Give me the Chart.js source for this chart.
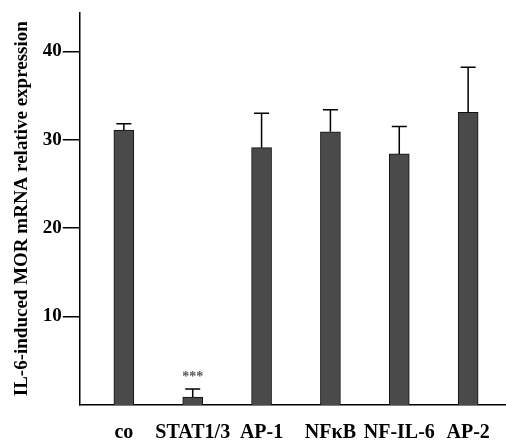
<!DOCTYPE html>
<html>
<head>
<meta charset="utf-8">
<script src="https://cdn.jsdelivr.net/npm/chart.js@4"></script>
<style>
  body { margin: 0; background: #fff; }
  #wrap { width: 506px; height: 443px; }
</style>
</head>
<body>
<div id="wrap"><canvas id="myChart"></canvas></div>
<script>
  const categories = ['co', 'STAT1/3', 'AP-1', 'NF\u03BAB', 'NF-IL-6', 'AP-2'];
  const values = [31.1, 0.9, 29.1, 30.9, 28.4, 33.1];
  const errors = [0.7, 0.9, 3.9, 2.5, 3.1, 5.1];
  const yTicks = [10, 20, 30, 40];
  const marks = ['', '***', '', '', '', ''];

  const serif = "'Liberation Serif', 'DejaVu Serif', serif";

  // upward error bars + significance stars
  const errorBars = {
    id: 'errorBars',
    afterDatasetsDraw(chart) {
      const c = chart.ctx;
      const x = chart.scales.x, y = chart.scales.y;
      c.save();
      c.strokeStyle = '#000';
      c.lineWidth = 1.5;
      values.forEach((v, i) => {
        const px = x.getPixelForValue(i);
        const top = y.getPixelForValue(v + errors[i]);
        const base = y.getPixelForValue(v);
        c.beginPath();
        c.moveTo(px, base);
        c.lineTo(px, top);
        c.moveTo(px - 7.5, top);
        c.lineTo(px + 7.5, top);
        c.stroke();
        if (marks[i]) {
          c.fillStyle = '#555';
          c.font = "bold 14px " + serif;
          c.textAlign = 'center';
          c.textBaseline = 'bottom';
          c.fillText(marks[i], px, top - 5);
        }
      });
      c.restore();
    }
  };

  const ctx = document.getElementById('myChart');
  new Chart(ctx, {
    type: 'bar',
    data: {
      datasets: [{
        data: values.map((v, i) => ({x: i, y: v})),
        backgroundColor: '#4a4a4a',
        borderColor: '#111',
        borderWidth: 1,
        barThickness: 20
      }]
    },
    options: {
      responsive: true,
      maintainAspectRatio: false,
      animation: false,
      layout: {padding: {top: 10, left: 11, right: 0, bottom: -18}},
      plugins: {legend: {display: false}, tooltip: {enabled: false}},
      scales: {
        x: {
          type: 'linear',
          offset: false,
          min: -0.64,
          max: 5.55,
          afterBuildTicks: s => { s.ticks = categories.map((c, i) => ({value: i})); },
          grid: {display: false, drawTicks: false},
          border: {display: true, color: '#000', width: 1.5},
          ticks: {
            padding: 16,
            color: '#000',
            maxRotation: 0,
            autoSkip: false,
            font: {family: serif, size: 20, weight: 'bold'},
            callback: v => categories[v]
          }
        },
        y: {
          min: 0,
          max: 44.4,
          afterBuildTicks: s => { s.ticks = yTicks.map(v => ({value: v})); },
          grid: {drawOnChartArea: false, tickLength: 17, color: '#000', lineWidth: 1.5},
          border: {display: true, color: '#000', width: 1.5},
          ticks: {
            padding: 1,
            color: '#000',
            font: {family: serif, size: 19, weight: 'bold'}
          },
          title: {
            display: true,
            text: 'IL-6-induced MOR mRNA relative expression',
            color: '#000',
            padding: {top: 0, bottom: 8},
            font: {family: serif, size: 19, weight: 'bold'}
          }
        }
      }
    },
    plugins: [errorBars]
  });
</script>
</body>
</html>
